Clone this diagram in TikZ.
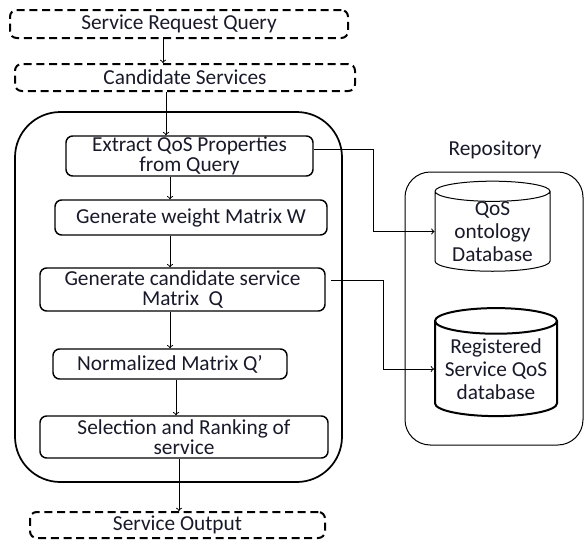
\documentclass[tikz,border=0pt]{standalone}
\usepackage{fontspec}
\setmainfont{Carlito}
\usetikzlibrary{shapes.geometric}
\definecolor{txtcol}{rgb}{0.10,0.10,0.16}
\tikzset{every picture/.style={line width=0.75pt}}
\tikzset{
  iobox/.style={draw, dash pattern=on 6pt off 3.5pt, line width=1.5pt, rounded corners=5pt, inner sep=0pt, text=txtcol, font=\fontsize{16}{15.5}\selectfont},
  stepbox/.style={draw, line width=1.1pt, rounded corners=5pt, align=center, inner sep=0pt, text=txtcol, font=\fontsize{16}{15.5}\selectfont},
  dbase/.style={draw, cylinder, shape border rotate=90, aspect=0.25, align=center, inner sep=0pt, text=txtcol, font=\fontsize{16}{17}\selectfont},
}

\begin{document}
\begin{tikzpicture}[x=0.75pt,y=0.75pt,yscale=-1,xscale=1]
\useasboundingbox (0,0) rectangle (585,540);

%Shape: Rounded Rect [id:outer]
\draw [line width=1.3pt, rounded corners=34pt] (15,112) rectangle (342,482);
%Shape: Rounded Rect [id:repo]
\draw [line width=0.75pt, rounded corners=19pt] (405,172) rectangle (583,445);

% Text Node
\node (srq) at (179,24) [iobox, minimum width=253.5pt, minimum height=21pt] {Service Request Query};
% Text Node
\node (cs) at (185,77.5) [iobox, minimum width=255pt, minimum height=20.25pt] {Candidate Services};
% Text Node
\node (ext) at (189.5,156) [stepbox, minimum width=185.25pt, minimum height=30pt] {Extract QoS Properties\\from Query};
% Text Node
\node (wgt) at (191,217.5) [stepbox, minimum width=204pt, minimum height=26.25pt] {Generate weight Matrix W};
% Text Node
\node (cand) at (182.5,289.5) [stepbox, minimum width=213.75pt, minimum height=32.25pt] {Generate candidate service\\Matrix\ \ Q};
% Text Node
\node (norm) at (170,364) [stepbox, minimum width=175.5pt, minimum height=22.5pt] {Normalized Matrix Q’};
% Text Node
\node (sel) at (184,437) [stepbox, minimum width=216pt, minimum height=31.5pt] {Selection and Ranking of\\service};
% Text Node
\node (out) at (177.5,525) [iobox, minimum width=221.25pt, minimum height=19.5pt] {Service Output};

% Text Node
\node (repl) at (495,150) [text=txtcol, font=\fontsize{16}{16}\selectfont] {Repository};
%Shape: Can
\node (qos) at (492.5,231.5) [dbase, minimum width=86.25pt, minimum height=62.25pt] {QoS\\ontology\\Database};
%Shape: Can
\node (reg) at (496,369) [dbase, line width=1.5pt, minimum width=91.5pt, minimum height=81pt] {Registered\\Service QoS\\database};

%Straight Lines
\draw [->] (srq.south -| 163,0) -- (cs.north -| 163,0);
\draw [->] (cs.south -| 166,0) -- (ext.north -| 166,0);
\draw [->] (ext.south -| 170,0) -- (wgt.north -| 170,0);
\draw [->] (wgt.south -| 170,0) -- (cand.north -| 170,0);
\draw [->] (cand.south -| 170,0) -- (norm.north -| 170,0);
\draw [->] (norm.south -| 176,0) -- (sel.north -| 176,0);
\draw [->] (sel.south -| 179,0) -- (out.north -| 179,0);

%Elbow Lines
\coordinate (k1) at (373,149);
\coordinate (k2) at (383,280);
\draw [->] (ext.east |- k1) -- (k1) |- (qos.west);
\draw [->] ([xshift=4pt]cand.east |- k2) -- (k2) |- (reg.west);

\end{tikzpicture}
\end{document}
